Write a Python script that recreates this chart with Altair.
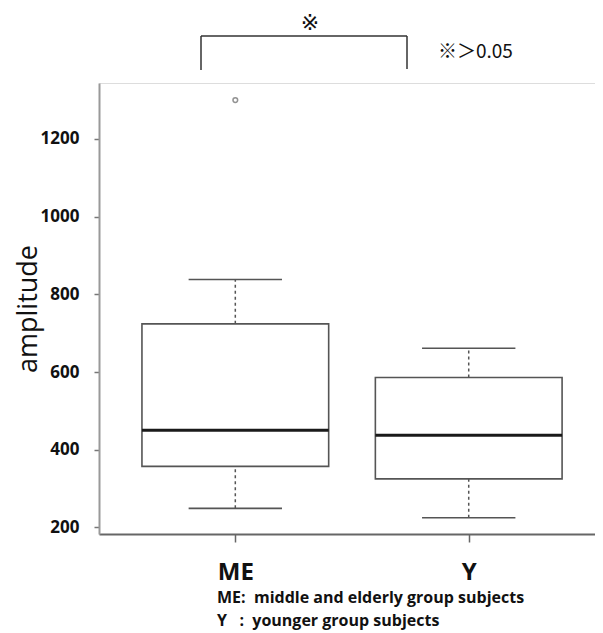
import altair as alt
import pandas as pd

# ---- data ----
groups = ["ME", "Y"]
group_pos = [1, 2]
lower_whisker = [249, 225]
q1 = [357, 325]
median = [450, 437]
q3 = [724, 586]
upper_whisker = [838, 661]
outlier_group = ["ME"]
outlier_value = [1300]

y_ticks = [200, 400, 600, 800, 1000, 1200]
footnote_1 = "ME:\u00a0\u00a0middle and elderly group subjects"
footnote_2 = "Y\u00a0\u00a0\u00a0:\u00a0\u00a0younger group subjects"
sig_mark = "※"
sig_note = "※＞0.05"

# ---- layout / style ----
W, H = 496, 451
BOX_HALF = 0.40
CAP_HALF = 0.20
FONT = "Open Sans"
CJK = "Noto Sans CJK JP"

df = pd.DataFrame({
    "group": groups, "pos": group_pos, "lw": lower_whisker, "q1": q1,
    "med": median, "q3": q3, "uw": upper_whisker,
})
out_df = pd.DataFrame({
    "pos": [group_pos[groups.index(g)] for g in outlier_group],
    "value": outlier_value,
})

label_expr = " : ".join(
    f"datum.value == {p} ? '{g}'" for p, g in zip(group_pos, groups)
) + " : ''"

xscale = alt.Scale(domain=[0.416, 2.541], nice=False, zero=False)
yscale = alt.Scale(domain=[183, 1344], nice=False, zero=False)

xaxis = alt.Axis(
    values=group_pos, labelExpr=label_expr, title=None, grid=False,
    domainColor="#666", domainWidth=2, tickColor="#666", tickWidth=1.5,
    tickSize=8, labelFont=FONT, labelFontWeight="bold", labelFontSize=24,
    labelColor="#111", labelPadding=18,
)
yaxis = alt.Axis(
    values=y_ticks, format="d", title="amplitude", grid=False,
    domainColor="#999", domainWidth=2, tickColor="#777", tickWidth=1.5,
    tickSize=5, labelFont=FONT, labelFontWeight="bold", labelFontSize=17,
    labelColor="#111", labelPadding=15, titleFont=FONT,
    titleFontWeight="normal", titleFontSize=27, titleColor="#111",
    titleAngle=270, titleBaseline="alphabetic", titleX=-63,
)

base = alt.Chart(df).transform_calculate(
    left=f"datum.pos - {BOX_HALF}", right=f"datum.pos + {BOX_HALF}",
    cl=f"datum.pos - {CAP_HALF}", cr=f"datum.pos + {CAP_HALF}",
)

X = lambda f: alt.X(f, type="quantitative", scale=xscale, axis=xaxis)
Y = lambda f: alt.Y(f, type="quantitative", scale=yscale, axis=yaxis)

box = base.mark_rect(fill="white", stroke="#555", strokeWidth=1.6).encode(
    x=X("left"), x2="right", y=Y("q1"), y2="q3")
med = base.mark_rule(color="#1a1a1a", strokeWidth=3).encode(
    x=X("left"), x2="right", y=Y("med"))
wl = base.mark_rule(color="#555", strokeWidth=1.5, strokeDash=[3, 3]).encode(
    x=X("pos"), y=Y("lw"), y2="q1")
wu = base.mark_rule(color="#555", strokeWidth=1.5, strokeDash=[3, 3]).encode(
    x=X("pos"), y=Y("q3"), y2="uw")
cap_l = base.mark_rule(color="#555", strokeWidth=1.6).encode(
    x=X("cl"), x2="cr", y=Y("lw"))
cap_u = base.mark_rule(color="#555", strokeWidth=1.6).encode(
    x=X("cl"), x2="cr", y=Y("uw"))
outl = alt.Chart(out_df).mark_point(
    shape="circle", filled=False, color="#666", size=22, strokeWidth=1.5
).encode(x=X("pos"), y=Y("value"))

# significance bracket and notes (annotation, pixel positions)
ann = alt.Chart(pd.DataFrame({"a": [0]}))
br_top = ann.mark_rule(color="#333", strokeWidth=1.5).encode(
    x=alt.value(102), x2=alt.value(308), y=alt.value(-47))
br_l = ann.mark_rule(color="#333", strokeWidth=1.5).encode(
    x=alt.value(102), y=alt.value(-47), y2=alt.value(-13))
br_r = ann.mark_rule(color="#333", strokeWidth=1.5).encode(
    x=alt.value(308), y=alt.value(-47), y2=alt.value(-14))
t_sig = ann.mark_text(font="DejaVu Sans", fontSize=22, color="#111",
                      align="center", baseline="middle").encode(
    x=alt.value(211), y=alt.value(-60), text=alt.value(sig_mark))
t_note = ann.mark_text(font=CJK, fontSize=19, color="#111", align="left",
                       baseline="middle").encode(
    x=alt.value(339), y=alt.value(-31), text=alt.value(sig_note))
f1 = ann.mark_text(font=FONT, fontSize=16, fontWeight="bold", color="#111",
                   align="left", baseline="alphabetic").encode(
    x=alt.value(118), y=alt.value(H + 69), text=alt.value(footnote_1))
f2 = ann.mark_text(font=FONT, fontSize=16, fontWeight="bold", color="#111",
                   align="left", baseline="alphabetic").encode(
    x=alt.value(118), y=alt.value(H + 92), text=alt.value(footnote_2))

chart = alt.layer(
    box, wl, wu, cap_l, cap_u, med, outl,
    br_top, br_l, br_r, t_sig, t_note, f1, f2,
).properties(
    width=W, height=H,
    autosize=alt.AutoSizeParams(type="none"),
    padding={"left": 91, "top": 75, "right": 0, "bottom": 97},
).configure_view(stroke="#999", strokeWidth=1.5).configure(background="white")

chart.save("out.html", embed_options={"renderer": "svg", "actions": False})
